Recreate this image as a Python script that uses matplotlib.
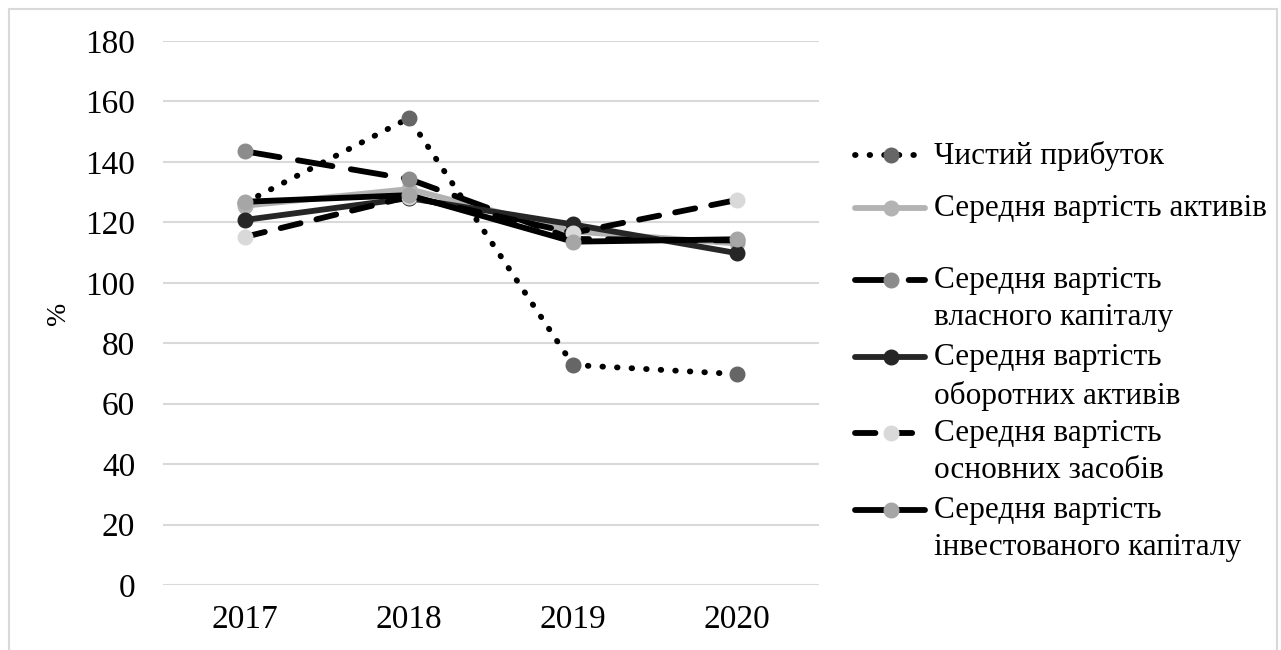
import matplotlib.pyplot as plt
from matplotlib.lines import Line2D
from matplotlib.patches import Rectangle

plt.rcParams['font.family'] = ['Liberation Serif', 'DejaVu Serif']

years = ['2017', '2018', '2019', '2020']
net_profit = [126.5, 154.5, 72.8, 69.8]
avg_assets = [125.5, 131.0, 117.0, 113.0]
avg_equity = [143.5, 134.3, 114.5, 114.0]
avg_current = [120.8, 128.0, 119.3, 109.8]
avg_fixed = [115.2, 128.5, 116.5, 127.4]
avg_invested = [126.8, 129.0, 113.6, 114.4]

labels = ['Чистий прибуток', 'Середня вартість активів',
          'Середня вартість\nвласного капіталу',
          'Середня вартість\nоборотних активів',
          'Середня вартість\nосновних засобів',
          'Середня вартість\nінвестованого капіталу']
series = [net_profit, avg_assets, avg_equity, avg_current, avg_fixed, avg_invested]
# (line colour, marker colour, dash pattern)
styles = [
    ('black', '#666666', (0, (0.1, 2.4))),
    ('#B3B3B3', '#B3B3B3', '-'),
    ('black', '#8C8C8C', (0, (6, 3.2))),
    ('#262626', '#262626', '-'),
    ('black', '#D9D9D9', (0, (3.5, 2.8))),
    ('black', '#A6A6A6', '-'),
]

W, H = 1281, 650
fig = plt.figure(figsize=(W / 100, H / 100), dpi=100)
ax = fig.add_axes([163 / W, 1 - 585 / H, (819 - 163) / W, (585 - 41) / H])

x = list(range(len(years)))
for vals, (lc, mc, ls) in zip(series, styles):
    ax.plot(x, vals, color=lc, lw=4.2, linestyle=ls, dash_capstyle='round',
            solid_capstyle='round', marker='o', markersize=10.5,
            markerfacecolor=mc, markeredgecolor=mc, zorder=3)

ax.set_xlim(-0.5, 3.5)
ax.set_ylim(0, 180)
ax.set_yticks(range(0, 181, 20))
ax.set_xticks(x)
ax.set_xticklabels(years)
ax.grid(axis='y', color='#D9D9D9', lw=1.5)
ax.set_axisbelow(True)
for s in ax.spines.values():
    s.set_visible(False)
ax.tick_params(length=0, labelsize=24, colors='black')
ax.tick_params(axis='y', pad=20)
ax.tick_params(axis='x', pad=14)
ax.set_ylabel('%', fontsize=20, labelpad=10)

# legend drawn by hand to keep Excel-like placement
rows = [155, 208, 280, 357, 433, 510]
for lab, (lc, mc, ls), yy in zip(labels, styles, rows):
    yf = 1 - yy / H
    fig.add_artist(Line2D([855 / W, 925 / W], [yf, yf], color=lc, lw=4.2,
                          linestyle=ls, dash_capstyle='round',
                          solid_capstyle='round'))
    fig.add_artist(Line2D([891 / W], [yf], marker='o', markersize=10.5,
                          markerfacecolor=mc, markeredgecolor=mc, lw=0))
    fig.text(934 / W, yf + 14 / H, lab, fontsize=22.5, va='top', ha='left',
             linespacing=1.38)

fig.add_artist(Rectangle((9 / W, -0.1), (1277 - 9) / W, 1.1 - 9 / H,
                         transform=fig.transFigure, fill=False,
                         edgecolor='#D9D9D9', lw=1.5))

fig.savefig('out.png', dpi=100)
